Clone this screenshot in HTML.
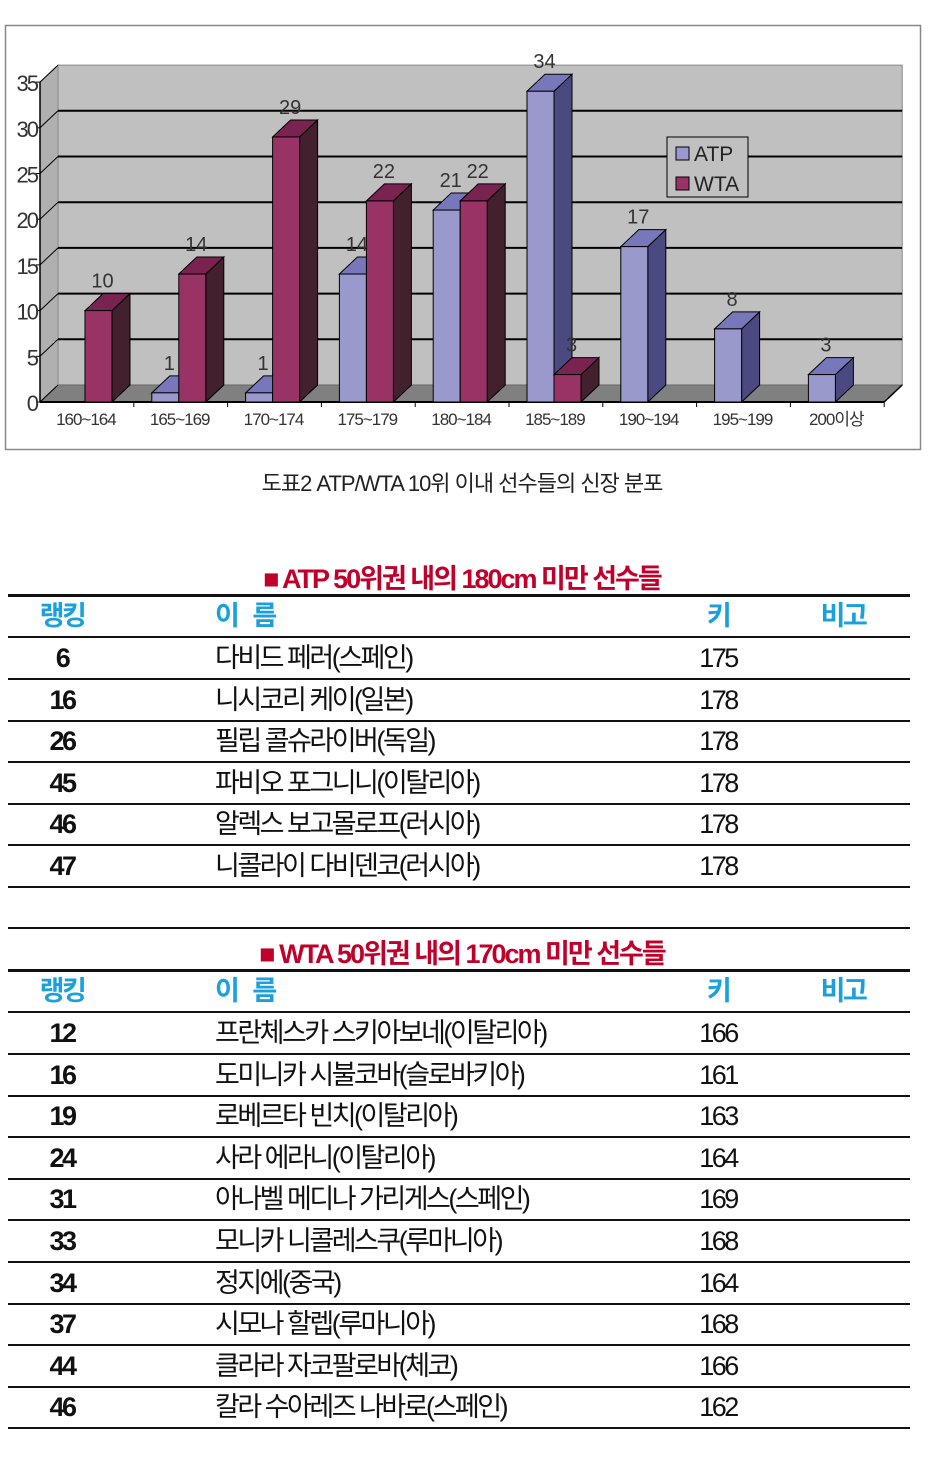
<!DOCTYPE html>
<html><head><meta charset="utf-8">
<style>
body{margin:0;background:#fff;width:949px;height:1478px;position:relative;overflow:hidden;font-family:"Liberation Sans","Noto Sans CJK KR",sans-serif;}
.abs{position:absolute}
.line{position:absolute;left:8px;width:902px;height:2px;background:#111}
.title{position:absolute;left:0;width:924px;text-align:center;color:#c0002a;font-weight:bold;font-size:27px;letter-spacing:-2px;font-family:"Liberation Sans","Noto Sans CJK KR",sans-serif}
.row{position:absolute;left:8px;width:902px;height:41px;font-size:27px;letter-spacing:-2.5px;line-height:41px;color:#111}
.row span{position:absolute;top:0}
.rk{left:0;width:108px;text-align:center;font-weight:bold}
.nm{left:207px}
.ht{left:660px;width:100px;text-align:center}
.hd{color:#1aa0dc;font-weight:bold}
.hd .bg{left:790px;width:90px;text-align:center}
</style></head><body>
<svg id="chart" class="abs" style="left:0;top:0" width="949" height="470"></svg>
<div class="abs" style="left:0;top:466px;width:924px;text-align:center;font-size:22px;letter-spacing:-1px;color:#222">도표2 ATP/WTA 10위 이내 선수들의 신장 분포</div>

<div class="title" style="top:557px">■ ATP 50위권 내의 180cm 미만 선수들</div>
<div class="line" style="top:594px;height:3px"></div>
<div class="row hd" style="top:596px"><span class="rk">랭킹</span><span class="nm">이 &nbsp; 름</span><span class="ht">키</span><span class="bg">비고</span></div>
<div id="atp"></div>

<div class="line" style="top:927px"></div>
<div class="title" style="top:932px">■ WTA 50위권 내의 170cm 미만 선수들</div>
<div class="line" style="top:969px;height:3px"></div>
<div class="row hd" style="top:971px"><span class="rk">랭킹</span><span class="nm">이 &nbsp; 름</span><span class="ht">키</span><span class="bg">비고</span></div>
<div id="wta"></div>

<script>
const categories=["160~164","165~169","170~174","175~179","180~184","185~189","190~194","195~199","200이상"];
const atpValues=[0,1,1,14,21,34,17,8,3];
const wtaValues=[10,14,29,22,22,3,0,0,0];
const yTicks=[0,5,10,15,20,25,30,35];

const atpRanks=[6,16,26,45,46,47];
const atpNames=["다비드 페러(스페인)","니시코리 케이(일본)","필립 콜슈라이버(독일)","파비오 포그니니(이탈리아)","알렉스 보고몰로프(러시아)","니콜라이 다비덴코(러시아)"];
const atpHeights=[175,178,178,178,178,178];
const wtaRanks=[12,16,19,24,31,33,34,37,44,46];
const wtaNames=["프란체스카 스키아보네(이탈리아)","도미니카 시불코바(슬로바키아)","로베르타 빈치(이탈리아)","사라 에라니(이탈리아)","아나벨 메디나 가리게스(스페인)","모니카 니콜레스쿠(루마니아)","정지에(중국)","시모나 할렙(루마니아)","클라라 자코팔로바(체코)","칼라 수아레즈 나바로(스페인)"];
const wtaHeights=[166,161,163,164,169,168,164,168,166,162];

const NS="http://www.w3.org/2000/svg";
const svg=document.getElementById('chart');
function el(t,a,p){const e=document.createElementNS(NS,t);for(const k in a)e.setAttribute(k,a[k]);(p||svg).appendChild(e);return e;}
const X0=40,Y0=402,PX=9.14,STEP=93.8,DX=18,DY=-17,BW=27;
const y=v=>Y0-v*PX;
const xc=i=>X0+i*STEP;

let r=el('rect',{x:5.5,y:25.5,width:915,height:424,fill:'#fff',stroke:'#888','stroke-width':1.5});

// walls
el('polygon',{points:`${X0+DX},${y(35)+DY} ${X0+DX+9*STEP},${y(35)+DY} ${X0+DX+9*STEP},${Y0+DY} ${X0+DX},${Y0+DY}`,fill:'#c0c0c0',stroke:'#888'});
el('polygon',{points:`${X0},${y(35)} ${X0+DX},${y(35)+DY} ${X0+DX},${Y0+DY} ${X0},${Y0}`,fill:'#b0b0b0',stroke:'#888'});
el('polygon',{points:`${X0},${Y0} ${X0+DX},${Y0+DY} ${X0+DX+9*STEP},${Y0+DY} ${X0+9*STEP},${Y0}`,fill:'#808080',stroke:'#666'});
yTicks.forEach(t=>{
  if(t>0&&t<35){el('line',{x1:X0+DX,y1:y(t)+DY,x2:X0+DX+9*STEP,y2:y(t)+DY,stroke:'#000','stroke-width':2});}
  el('line',{x1:X0,y1:y(t),x2:X0+DX,y2:y(t)+DY,stroke:'#000','stroke-width':1});
  el('line',{x1:X0-4,y1:y(t),x2:X0,y2:y(t),stroke:'#000'});
  const tx=el('text',{x:X0-3,y:y(t)+9,'text-anchor':'end','font-size':22,fill:'#333','letter-spacing':-2,'font-family':'Liberation Sans, sans-serif'});tx.textContent=t;
  
});
el('line',{x1:X0,y1:y(35),x2:X0,y2:Y0,stroke:'#000','stroke-width':1.5});
el('line',{x1:X0,y1:Y0,x2:X0+9*STEP,y2:Y0,stroke:'#000','stroke-width':2});
el('line',{x1:X0+9*STEP,y1:Y0,x2:X0+9*STEP+DX,y2:Y0+DY,stroke:'#000','stroke-width':1.5});
function bar(x,v,front,top,side,name){
  if(v<=0)return;
  const g=el('g',{});
  
  const t=y(v);
  el('polygon',{points:`${x+BW},${t} ${x+BW+DX},${t+DY} ${x+BW+DX},${Y0+DY} ${x+BW},${Y0}`,fill:side,stroke:'#000'},g);
  el('polygon',{points:`${x},${t} ${x+DX},${t+DY} ${x+BW+DX},${t+DY} ${x+BW},${t}`,fill:top,stroke:'#000'},g);
  el('rect',{x:x,y:t,width:BW,height:Y0-t,fill:front,stroke:'#000'},g);
}
function label(x,v){if(v<=0)return;const tx=el('text',{x:x+BW/2+4,y:y(v)+DY-6,'text-anchor':'middle','font-size':20,fill:'#333','font-family':'Liberation Sans, sans-serif'});tx.textContent=v;
  }
categories.forEach((c,i)=>{
  const xa=xc(i)+18,xw=xc(i)+45;
  bar(xa,atpValues[i],'#9999cc','#7777bb','#4a4a80','bar-atp-'+i);
  bar(xw,wtaValues[i],'#993366','#7a2250','#42202e','bar-wta-'+i);
  el('line',{x1:xc(i+1),y1:Y0,x2:xc(i+1),y2:Y0+5,stroke:'#000'});
  const tx=el('text',{x:xc(i)+STEP/2-1,y:Y0+23,'text-anchor':'middle','font-size':17,fill:'#333','letter-spacing':-1,'font-family':'Liberation Sans, Noto Sans CJK KR, sans-serif'});tx.textContent=c;
  
});
categories.forEach((c,i)=>{label(xc(i)+18,atpValues[i]);label(xc(i)+45,wtaValues[i]);});
// legend
const lg=el('g',{});
el('rect',{x:667,y:137,width:81,height:60,fill:'#c0c0c0',stroke:'#000'},lg);
el('rect',{x:676,y:147,width:13,height:13,fill:'#9999cc',stroke:'#000'},lg);
el('rect',{x:676,y:177,width:13,height:13,fill:'#993366',stroke:'#000'},lg);
let t1=el('text',{x:694,y:161,'font-size':21,fill:'#222','font-family':'Liberation Sans, sans-serif'},lg);t1.textContent='ATP';
let t2=el('text',{x:694,y:191,'font-size':21,fill:'#222','font-family':'Liberation Sans, sans-serif'},lg);t2.textContent='WTA';

function table(id,top,ranks,names,heights,prefix){
  const c=document.getElementById(id);
  ranks.forEach((rk,i)=>{
    const ty=top+i*41.6;
    const d=document.createElement('div');d.className='row';d.style.top=ty+'px';
    
    
    d.innerHTML=`<span class="rk">${rk}</span><span class="nm">${names[i]}</span><span class="ht">${heights[i]}</span>`;
    c.appendChild(d);
    const l=document.createElement('div');l.className='line';l.style.top=(ty+40)+'px';
    
    
    c.appendChild(l);
  });
}
const hl1=document.createElement('div');hl1.className='line';hl1.style.top='636px';document.body.appendChild(hl1);
const hl2=document.createElement('div');hl2.className='line';hl2.style.top='1011px';document.body.appendChild(hl2);
table('atp',638,atpRanks,atpNames,atpHeights,'atp');
table('wta',1013,wtaRanks,wtaNames,wtaHeights,'wta');
</script>
</body></html>
